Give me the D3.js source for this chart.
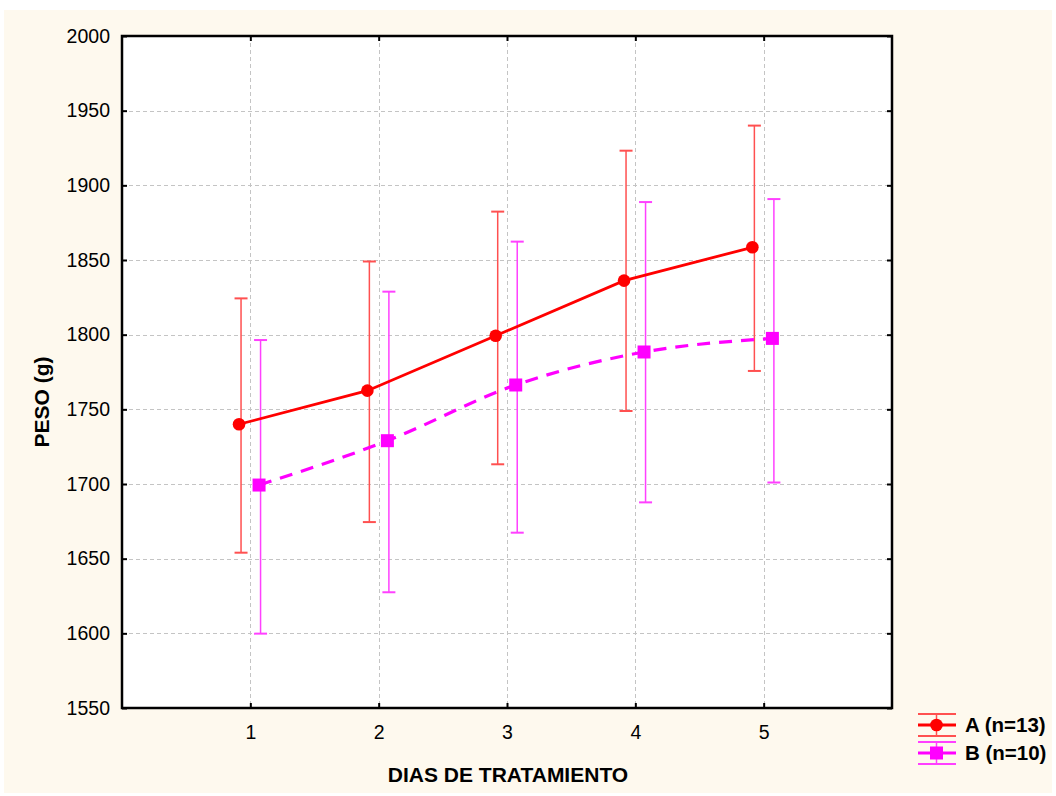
<!DOCTYPE html>
<html>
<head>
<meta charset="utf-8">
<script src="https://cdn.jsdelivr.net/npm/d3@7/dist/d3.min.js"></script>
<style>
  html, body { margin: 0; padding: 0; background: #ffffff; }
  svg { display: block; }
  text { font-family: Arial, "Liberation Sans", sans-serif; }
</style>
</head>
<body>
<svg id="chart" width="1056" height="796"></svg>
<script>
// ---- data ----
const days = [1, 2, 3, 4, 5];
const meanA = [1740, 1762.5, 1799.3, 1836.2, 1858.5];
const lowA  = [1654, 1674.5, 1713.2, 1748.9, 1775.7];
const highA = [1824.3, 1849, 1882.4, 1923.2, 1940];
const meanB = [1699.3, 1729, 1766.3, 1788.4, 1797.5];
const lowB  = [1599.8, 1627.5, 1667.4, 1687.7, 1701];
const highB = [1796.4, 1828.8, 1862.3, 1888.8, 1890.8];
const yTicks = [1550, 1600, 1650, 1700, 1750, 1800, 1850, 1900, 1950, 2000];
const seriesNames = ["A (n=13)", "B (n=10)"];
const xTitle = "DIAS DE TRATAMIENTO";
const yTitle = "PESO (g)";

(function () {
const svg = d3.select("#chart");

// background
svg.append("rect").attr("x", 4).attr("y", 10).attr("width", 1048).attr("height", 783)
  .attr("fill", "#FEF9EE");

const pL = 122, pR = 892, pT = 36, pB = 708;
svg.append("rect").attr("x", pL).attr("y", pT).attr("width", pR - pL).attr("height", pB - pT)
  .attr("fill", "#ffffff");

const x = d3.scaleLinear().domain([0, 6]).range([pL, pR]);
const y = d3.scaleLinear().domain([1550, 2000]).range([pB, pT]);

// grid
const grid = svg.append("g").attr("stroke", "#c4c4c4").attr("stroke-width", 1).attr("stroke-dasharray", "4,3");
yTicks.slice(1, -1).forEach(t => {
  grid.append("line").attr("x1", pL).attr("x2", pR).attr("y1", Math.round(y(t)) + 0.5).attr("y2", Math.round(y(t)) + 0.5);
});
days.forEach(d => {
  grid.append("line").attr("y1", pT).attr("y2", pB).attr("x1", Math.round(x(d)) + 0.5).attr("x2", Math.round(x(d)) + 0.5);
});

// axes (ticks inward)
const axL = svg.append("g").attr("transform", `translate(${pL},0)`)
  .call(d3.axisLeft(y).tickValues(yTicks).tickSize(-5).tickPadding(12).tickFormat(d3.format("d")));
const axB = svg.append("g").attr("transform", `translate(0,${pB})`)
  .call(d3.axisBottom(x).tickValues(days).tickSize(-5).tickPadding(17).tickFormat(d3.format("d")));
const axT = svg.append("g").attr("transform", `translate(0,${pT})`)
  .call(d3.axisTop(x).tickValues(days).tickSize(-5).tickFormat(""));
const axR = svg.append("g").attr("transform", `translate(${pR},0)`)
  .call(d3.axisRight(y).tickValues(yTicks).tickSize(-5).tickFormat(""));
[axL, axB, axT, axR].forEach(a => {
  a.select(".domain").remove();
  a.selectAll(".tick line").attr("stroke", "#000").attr("stroke-width", 2);
  a.selectAll("text").attr("font-size", 19.5).attr("fill", "#000")
    .attr("font-family", "Arial, 'Liberation Sans', sans-serif");
});

// frame
svg.append("rect").attr("x", pL).attr("y", pT).attr("width", pR - pL).attr("height", pB - pT)
  .attr("fill", "none").attr("stroke", "#000").attr("stroke-width", 2.5);

// series
const offA = -0.088, offB = 0.068;
const barShiftA = 2, barShiftB = 1.5;
const colA = "#ff0000", colAbar = "#ff5050";
const colB = "#ff00ff", colBbar = "#ff40ff";

function errorBars(means, lows, highs, off, shift, color, capW) {
  const g = svg.append("g").attr("stroke", color).attr("stroke-width", 1.5);
  days.forEach((d, i) => {
    const cx = x(d + off) + shift;
    g.append("line").attr("x1", cx).attr("x2", cx).attr("y1", y(lows[i])).attr("y2", y(highs[i]));
    g.append("line").attr("x1", cx - capW / 2).attr("x2", cx + capW / 2).attr("y1", y(lows[i])).attr("y2", y(lows[i])).attr("stroke-width", 2);
    g.append("line").attr("x1", cx - capW / 2).attr("x2", cx + capW / 2).attr("y1", y(highs[i])).attr("y2", y(highs[i])).attr("stroke-width", 2);
  });
}
errorBars(meanA, lowA, highA, offA, barShiftA, colAbar, 13);
errorBars(meanB, lowB, highB, offB, barShiftB, colBbar, 13);

// line A
svg.append("path")
  .attr("d", d3.line().x((d, i) => x(days[i] + offA)).y(d => y(d))(meanA))
  .attr("fill", "none").attr("stroke", colA).attr("stroke-width", 2.8);
// line B (smoothed, dashed)
svg.append("path")
  .attr("d", d3.line().curve(d3.curveMonotoneX).x((d, i) => x(days[i] + offB)).y(d => y(d))(meanB))
  .attr("fill", "none").attr("stroke", colB).attr("stroke-width", 3.2).attr("stroke-dasharray", "13,9");

// markers
svg.append("g").selectAll("circle").data(meanA).join("circle")
  .attr("cx", (d, i) => x(days[i] + offA)).attr("cy", d => y(d)).attr("r", 6.3).attr("fill", colA);
svg.append("g").selectAll("rect").data(meanB).join("rect")
  .attr("x", (d, i) => x(days[i] + offB) - 6.5).attr("y", d => y(d) - 6.5)
  .attr("width", 13).attr("height", 13).attr("fill", colB);

// titles
svg.append("text").attr("x", 508).attr("y", 782).attr("text-anchor", "middle")
  .attr("font-size", 21).attr("font-weight", "bold").attr("fill", "#000").text(xTitle);
svg.append("text").attr("transform", `translate(49,402) rotate(-90)`)
  .attr("text-anchor", "middle").attr("font-size", 21).attr("font-weight", "bold").attr("fill", "#000").text(yTitle);

// legend
const leg = [
  { name: seriesNames[0], color: colA, bar: colAbar, shape: "circle", y: 725 },
  { name: seriesNames[1], color: colB, bar: colBbar, shape: "square", y: 753 }
];
leg.forEach(l => {
  const g = svg.append("g");
  const x0 = 918, x1 = 956, cx = 936.5;
  g.append("line").attr("x1", x0).attr("x2", x1).attr("y1", l.y - 11).attr("y2", l.y - 11).attr("stroke", l.bar).attr("stroke-width", 2);
  g.append("line").attr("x1", x0).attr("x2", x1).attr("y1", l.y + 11).attr("y2", l.y + 11).attr("stroke", l.bar).attr("stroke-width", 2);
  g.append("line").attr("x1", cx).attr("x2", cx).attr("y1", l.y - 11).attr("y2", l.y + 11).attr("stroke", l.bar).attr("stroke-width", 1.5);
  g.append("line").attr("x1", x0).attr("x2", x1).attr("y1", l.y).attr("y2", l.y).attr("stroke", l.color).attr("stroke-width", 3);
  if (l.shape === "circle") {
    g.append("circle").attr("cx", cx).attr("cy", l.y).attr("r", 6.3).attr("fill", l.color);
  } else {
    g.append("rect").attr("x", cx - 6.5).attr("y", l.y - 6.5).attr("width", 13).attr("height", 13).attr("fill", l.color);
  }
  g.append("text").attr("x", 965).attr("y", l.y + 7).attr("font-size", 20.5).attr("font-weight", "bold")
    .attr("fill", "#000").text(l.name);
});
})();
</script>
</body>
</html>
